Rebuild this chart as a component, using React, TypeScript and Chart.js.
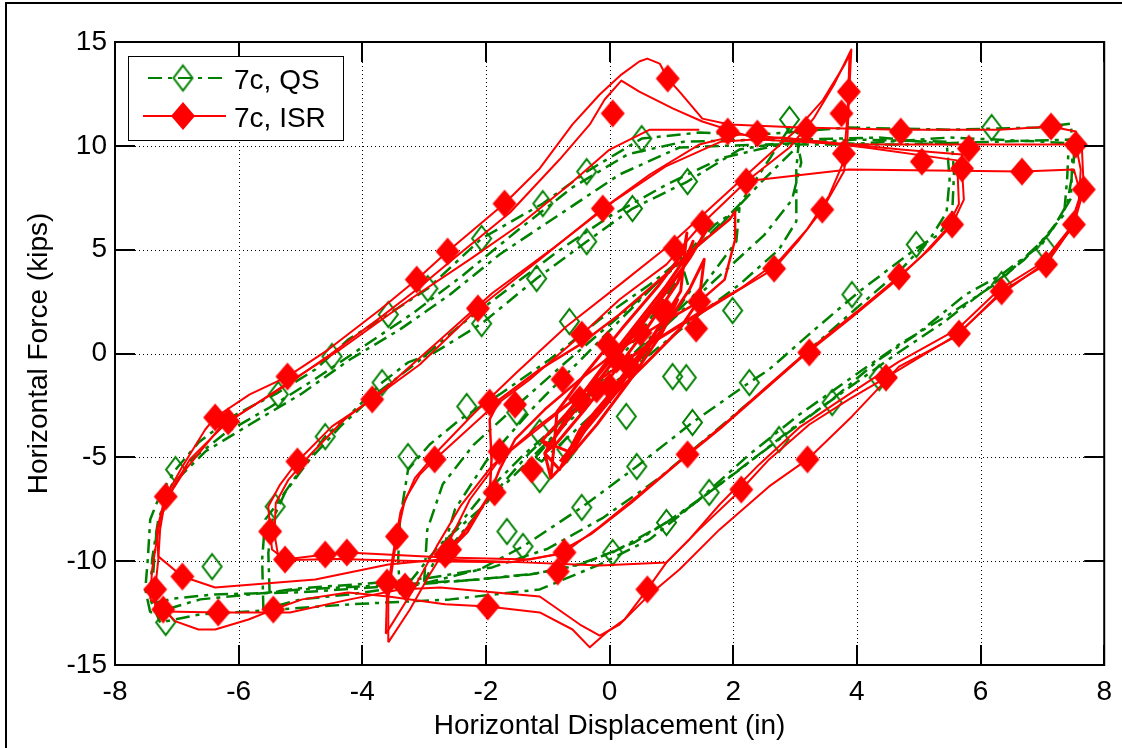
import React, { useEffect, useRef } from "react";
import { Chart, registerables } from "chart.js";

Chart.register(...registerables);

const FONT = '"Liberation Sans", Arial, Helvetica, sans-serif';
const X_MIN = -8;
const X_MAX = 8;
const Y_MIN = -15;
const Y_MAX = 15;
const xTickValues = [-8, -6, -4, -2, 0, 2, 4, 6, 8];
const yTickValues = [-15, -10, -5, 0, 5, 10, 15];
const xTitle = "Horizontal Displacement (in)";
const yTitle = "Horizontal Force (kips)";
const legendLabels = ["7c, QS", "7c, ISR"];

const QS_COLOR = "#008000";
const ISR_COLOR = "#ff0000";
const QS_DASH = [14, 6, 4, 6];

// ---------------- ISR (red) loops ----------------
const isrOuterAX = [-7.35,-7.35,-7.30,-7.27,-7.18,-6.91,-6.54,-6.38,-5.82,-5.21,-4.55,-3.71,-3.12,-2.62,-1.70,-1.13,-0.60,-0.16,0.19,0.48,0.61,0.81,0.94,1.13,1.50,1.94,3.07,4.71,6.30,7.14,7.54,7.64,7.67,7.51,7.06,6.34,5.65,5.17,4.47,3.87,3.23,2.58,2.13,1.45,0.92,0.61,0.24,-0.05,-0.32,-0.60,-1.13,-1.97,-2.66,-3.58,-4.23,-4.97,-5.44,-5.84,-6.38,-6.65,-7.02,-7.22,-7.35];
const isrOuterAY = [-12.33,-11.36,-9.92,-8.47,-6.89,-5.44,-3.66,-3.08,-1.97,-1.11,0.19,2.12,3.56,4.91,7.22,8.91,11.03,12.47,13.43,14.06,14.20,13.96,13.24,12.61,11.31,11.03,10.88,10.78,10.78,10.93,10.69,9.82,7.90,6.21,4.29,2.99,0.96,0.10,-1.16,-2.21,-3.42,-5.10,-6.55,-8.47,-10.06,-11.36,-12.81,-13.43,-14.15,-13.29,-12.47,-12.18,-12.08,-11.70,-11.51,-11.84,-12.33,-12.81,-13.29,-13.29,-12.90,-12.33,-12.33];

const isrOuterBX = [-7.43,-7.40,-7.27,-7.08,-6.79,-6.17,-5.21,-4.52,-3.71,-3.12,-2.50,-1.61,-0.81,-0.32,-0.08,0.19,0.48,1.02,1.50,2.42,3.87,6.30,7.54,7.62,7.59,7.43,6.94,6.30,5.57,4.68,3.92,3.20,2.58,1.78,1.13,0.65,0.16,-0.16,-0.48,-1.13,-2.74,-3.39,-4.20,-5.17,-6.33,-7.18,-7.43];
const isrOuterBY = [-11.84,-10.40,-7.99,-6.55,-5.10,-3.27,-1.49,-0.05,1.73,3.08,4.62,6.79,9.34,11.03,12.23,13.14,12.61,11.80,11.17,10.30,10.06,10.06,10.06,8.86,7.41,5.97,4.14,2.79,0.77,-0.63,-3.03,-5.10,-6.40,-8.47,-10.40,-11.60,-13.05,-13.58,-13.05,-11.70,-11.27,-11.36,-11.84,-12.47,-12.47,-12.42,-11.84];

const isrOuterCX = [2.20,3.87,6.67,7.51,7.62,7.46,7.03,6.30,5.62,4.68,3.87,3.07,2.42,1.78,1.29,0.92,-0.16,-1.78,-2.74,-3.58,-4.76,-6.38,-6.91,-7.30,-7.32,-7.22,-6.86,-6.30,-5.17,-4.36,-3.23,-2.26,-1.45,-0.65,0.00,0.65,1.45];
const isrOuterCY = [8.30,8.86,8.76,8.86,7.65,5.97,4.43,3.08,1.16,-0.39,-1.97,-3.56,-5.34,-7.27,-8.95,-10.06,-10.21,-10.01,-9.92,-10.16,-10.88,-11.27,-10.74,-9.77,-8.47,-7.27,-5.59,-3.56,-1.35,0.19,2.60,4.53,6.21,8.14,9.82,10.78,10.78];

const isrMidAX = [5.70,5.73,5.54,5.17,4.68,4.04,3.23,2.58,1.94,1.26,0.48,-0.16,-0.73,-1.29,-2.66,-4.25,-4.60,-5.25,-5.46,-5.49,-5.52,-5.33,-5.05,-4.49,-3.84,-3.07,-2.13,-1.13,-0.11,0.65,1.45,2.10,3.07,4.71,5.70,5.70];
const isrMidAY = [8.86,7.41,6.21,5.01,3.71,2.12,0.19,-1.49,-3.18,-4.86,-6.79,-8.33,-9.58,-9.92,-9.82,-9.58,-9.68,-9.92,-9.44,-8.57,-7.37,-6.31,-5.20,-3.51,-2.21,-0.53,2.17,4.53,6.98,8.62,10.06,10.54,10.30,9.82,9.58,8.86];

const isrMidBX = [5.62,5.65,5.45,5.05,4.55,3.90,3.10,2.45,1.80,1.10,0.35,-0.30,-0.90,-1.60,-3.00,-4.40,-5.35,-5.42,-5.40,-5.20,-4.85,-4.30,-3.60,-2.80,-1.90,-0.90,0.10,0.90,1.80,2.80,4.20,5.62];
const isrMidBY = [9.30,7.20,6.00,4.70,3.30,1.70,-0.20,-1.90,-3.60,-5.30,-7.20,-8.70,-9.70,-10.05,-10.00,-9.90,-9.95,-8.70,-7.20,-6.10,-4.90,-3.20,-1.60,0.50,2.90,5.10,7.40,9.00,10.20,10.40,9.90,9.30];

const isrSpikeAX = [-3.58,-3.58,-3.55,-3.44,-3.31,-3.07,-2.83,-2.42,-1.94,-1.29,-0.45,0.16,0.92,1.50,2.21,2.91,3.31,3.63,3.91,3.87,3.84,3.79,3.44,3.07,2.66,2.10,1.45,0.65,-0.16,-0.97,-1.78,-2.26,-2.66,-2.91,-3.23,-3.58];
const isrSpikeAY = [-13.91,-11.84,-11.03,-8.81,-7.03,-5.83,-5.10,-4.00,-2.70,-1.25,0.91,2.60,4.29,6.26,8.28,9.92,11.36,12.95,14.64,12.23,9.82,8.76,6.93,5.49,4.09,3.08,1.88,0.43,-1.25,-3.18,-5.10,-7.03,-9.44,-10.64,-12.33,-13.91];

const isrSpikeBX = [-3.62,-3.60,-3.50,-3.38,-3.15,-2.75,-2.20,-1.50,-0.70,0.20,1.00,1.70,2.40,3.00,3.45,3.80,3.88,3.85,3.78,3.55,3.20,2.75,2.15,1.40,0.50,-0.40,-1.20,-1.90,-2.40,-2.80,-3.20,-3.62];
const isrSpikeBY = [-13.50,-11.50,-9.60,-7.60,-6.00,-4.60,-2.90,-0.90,1.30,3.40,5.30,7.20,9.10,10.70,12.20,13.90,14.40,11.50,9.20,7.60,6.00,4.50,3.20,1.90,0.20,-1.80,-3.60,-5.40,-7.30,-9.30,-11.50,-13.50];

const isrSmallX = [-1.94,-1.91,-1.94,-1.78,-1.13,-0.48,0.16,0.81,1.45,1.94,2.03,2.03,1.86,1.45,0.81,0.16,-0.48,-1.05,-1.53,-1.78,-1.94,-2.30,-2.58,-2.20,-1.94];
const isrSmallY = [-6.79,-5.10,-3.18,-2.21,-0.77,0.43,1.88,3.56,5.25,6.45,6.84,5.49,3.56,2.50,1.40,0.19,-1.25,-2.70,-4.14,-5.59,-6.79,-8.60,-9.44,-8.00,-6.79];

const isrInnerX = [-0.81,-0.48,0.00,0.48,0.97,1.29,1.53,1.45,1.13,0.65,0.16,-0.32,-0.65,-0.81,-1.05,-0.60,-0.10,0.40,0.90,1.25,1.35,1.10,0.60,0.10,-0.40,-0.85,-1.05,-0.95,-0.90,-0.85,-0.40,0.20,0.80,1.20,1.25,1.15,0.70,0.20,-0.30,-0.70,-0.95];
const isrInnerY = [-5.59,-3.66,-1.97,-0.29,1.64,3.08,4.53,2.60,1.16,-0.29,-1.73,-3.18,-4.62,-5.59,-4.80,-2.60,-0.60,1.30,3.20,4.70,5.40,3.40,1.20,-0.80,-2.70,-4.30,-4.80,-6.00,-4.50,-2.80,-1.00,1.20,3.30,4.90,5.80,3.00,0.80,-1.10,-3.20,-5.20,-6.00];

const isrInner2X = [-1.10,-0.70,-0.20,0.30,0.80,1.20,1.50,1.60,1.30,0.90,0.40,-0.10,-0.60,-1.00,-1.10,-0.60,-0.20,0.40,0.85,1.10,0.95,0.50,0.05,-0.45,-0.80];
const isrInner2Y = [-4.20,-2.90,-1.10,0.70,2.60,4.20,5.60,6.10,4.60,2.90,0.90,-1.00,-2.90,-4.50,-4.20,-4.80,-3.40,-1.00,1.00,2.60,2.00,-0.10,-2.10,-3.90,-5.20];

// ---------------- QS (green) loops ----------------
const qsOuterAX = [-7.43,-7.51,-7.47,-7.43,-7.27,-7.02,-6.65,-6.10,-5.36,-4.76,-4.23,-3.58,-2.94,-2.07,-1.08,-0.37,0.52,1.45,2.42,3.87,5.49,6.94,7.46,7.49,7.46,7.27,6.99,6.34,5.76,4.96,4.36,3.60,2.74,1.61,0.92,0.05,-0.60,-1.29,-2.10,-3.39,-5.00,-6.62,-7.18,-7.43];
const qsOuterAY = [-12.47,-11.36,-9.92,-7.99,-6.79,-5.59,-4.29,-3.03,-1.88,-0.77,0.67,1.88,3.13,5.54,7.22,8.76,10.35,10.64,10.54,10.88,10.78,10.88,11.07,9.82,7.46,6.50,5.25,3.80,2.84,0.91,-0.29,-2.21,-4.14,-6.69,-8.14,-9.58,-10.26,-10.64,-10.88,-11.12,-11.36,-11.84,-12.33,-12.47];

const qsOuterBX = [-7.27,-7.43,-7.40,-7.30,-7.08,-6.54,-5.82,-5.00,-4.20,-3.39,-2.58,-1.78,-0.81,0.16,1.13,2.42,4.68,7.43,7.40,7.35,6.94,6.30,5.49,4.68,3.87,3.07,2.26,1.45,0.65,-0.16,-1.13,-2.58,-4.20,-5.82,-6.62,-7.27];
const qsOuterBY = [-12.95,-11.84,-9.92,-7.99,-6.31,-4.72,-3.42,-1.97,-0.29,1.16,2.84,4.77,6.69,8.62,9.92,10.06,10.06,10.30,8.38,6.69,5.25,3.47,1.88,0.43,-1.25,-2.94,-4.86,-7.03,-8.95,-10.16,-11.36,-11.84,-12.08,-12.42,-12.56,-12.95];

const qsOuterCX = [-7.35,-7.38,-7.33,-7.15,-6.80,-6.20,-5.50,-4.80,-4.00,-3.20,-2.40,-1.50,-0.60,0.30,1.20,2.50,4.00,5.50,7.00,7.52,7.50,7.40,7.15,6.70,6.10,5.40,4.60,3.80,3.00,2.10,1.20,0.40,-0.40,-1.20,-2.20,-3.50,-5.00,-6.40,-7.05,-7.35];
const qsOuterCY = [-12.00,-10.50,-8.60,-6.90,-5.20,-3.80,-2.60,-1.30,0.30,1.90,3.70,5.90,8.00,9.60,10.20,10.30,10.10,10.40,10.20,10.10,8.90,7.20,5.90,4.50,3.10,1.50,-0.10,-1.80,-3.50,-5.60,-7.60,-9.10,-10.10,-10.60,-10.90,-11.20,-11.50,-11.60,-11.80,-12.00];

const qsMidX = [-5.60,-5.62,-5.57,-5.41,-5.00,-4.60,-4.20,-3.68,-3.26,-2.83,-2.07,-1.18,-0.37,0.37,1.26,2.10,3.07,4.36,5.54,5.57,5.54,5.33,4.96,4.04,3.28,2.58,2.26,1.34,0.44,-0.45,-1.40,-2.10,-3.07,-4.20,-5.00,-5.60];
const qsMidY = [-12.33,-9.92,-7.99,-7.37,-5.59,-4.00,-2.94,-1.40,-0.43,0.05,1.44,3.61,5.39,6.98,8.28,9.82,10.30,10.40,10.06,8.62,6.69,5.73,5.06,2.99,1.06,-0.77,-1.40,-3.32,-5.44,-7.41,-9.29,-10.40,-11.12,-11.60,-11.84,-12.33];

const qsMidBX = [-5.50,-5.52,-5.45,-5.25,-4.85,-4.35,-3.80,-3.10,-2.40,-1.60,-0.80,0.00,0.90,1.80,2.80,4.00,5.45,5.50,5.45,5.20,4.70,4.00,3.20,2.40,1.60,0.80,-0.10,-1.00,-1.90,-2.90,-4.00,-5.00,-5.50];
const qsMidBY = [-11.50,-9.60,-8.00,-6.70,-5.10,-3.50,-2.00,-0.40,1.40,3.20,5.00,6.60,8.10,9.40,10.10,10.30,10.20,8.40,6.80,5.60,4.00,2.20,0.10,-2.00,-4.00,-6.00,-7.90,-9.40,-10.30,-10.80,-11.10,-11.30,-11.50];

const qsInnerAX = [-3.39,-3.42,-3.39,-3.26,-2.91,-2.42,-1.78,-0.97,-0.16,0.65,1.45,2.10,2.58,2.91,3.07,3.02,3.02,2.74,2.10,1.45,0.65,-0.16,-0.81,-1.45,-2.10,-2.74,-3.07,-3.39];
const qsInnerAY = [-11.60,-9.92,-7.99,-5.59,-4.38,-3.18,-1.97,-0.29,1.64,3.32,5.25,7.17,9.34,10.88,10.54,8.86,6.36,5.01,3.32,1.88,-0.05,-1.97,-3.66,-5.59,-7.51,-9.19,-10.40,-11.60];

const qsInnerBX = [-2.70,-2.50,-2.00,-1.20,-0.20,0.80,1.70,2.10,2.05,1.50,0.60,-0.40,-1.30,-2.00,-2.60];
const qsInnerBY = [-9.50,-7.50,-5.20,-2.50,0.50,3.50,6.20,7.00,5.40,3.20,0.60,-2.20,-4.80,-7.20,-9.40];

const qsInnerCX = [-1.20,-0.40,0.50,1.20,1.30,0.60,-0.30,-1.10,-1.20];
const qsInnerCY = [-5.00,-2.30,1.00,4.00,3.00,0.00,-3.00,-5.20,-5.00];

const qsInnerDX = [-3.00,-2.95,-2.70,-2.20,-1.50,-0.70,0.20,1.00,1.80,2.50,3.05,3.10,2.95,2.50,1.80,1.00,0.20,-0.60,-1.40,-2.10,-2.70,-3.00];
const qsInnerDY = [-11.00,-8.50,-6.30,-4.40,-2.50,-0.40,1.90,4.00,6.20,8.40,10.00,9.20,7.40,5.70,3.80,1.60,-0.60,-2.80,-4.90,-7.00,-9.20,-11.00];

// ---------------- markers ----------------
const isrMarkX = [0.05,0.94,-1.70,-2.62,-3.12,-5.21,-6.38,-6.17,-7.18,-7.35,-7.22,-6.91,-6.33,-5.44,-1.97,0.61,2.13,4.47,3.20,3.23,5.65,6.34,7.06,7.51,7.67,7.54,7.14,6.67,5.70,5.81,5.05,4.71,3.87,3.75,3.18,3.79,1.91,2.39,2.21,1.50,1.05,1.45,1.40,0.92,-0.03,-0.45,-0.11,-2.13,5.54,4.68,3.44,2.66,1.26,-0.73,-0.84,-2.58,-1.86,-1.78,-1.26,-1.94,-1.53,-0.76,-0.48,0.00,-2.83,-2.66,-3.44,-3.60,-3.31,-4.25,-4.60,-5.25,-5.49,-5.05,-3.84,0.11,-0.21,0.86,0.32,0.50];
const isrMarkY = [11.56,13.24,7.22,4.91,3.56,-1.11,-3.08,-3.27,-6.89,-11.36,-12.33,-10.74,-12.47,-12.33,-12.18,-11.36,-6.55,-1.16,-5.10,0.05,0.96,2.99,4.29,6.21,7.90,10.06,10.93,8.76,8.91,9.87,9.24,10.69,12.61,11.56,10.78,9.63,10.69,10.59,8.28,6.26,5.06,2.50,1.20,2.02,0.43,0.91,6.98,2.17,6.21,3.71,6.93,4.09,-4.86,-9.58,-10.50,-9.44,-6.69,-4.72,-5.59,-2.36,-2.46,-1.25,-2.21,-1.59,-5.10,-9.68,-8.81,-11.03,-11.22,-9.58,-9.68,-9.92,-8.57,-5.20,-2.21,-0.29,-1.73,1.97,-0.63,1.00];

const qsMarkX = [-7.02,-5.36,-4.49,-3.58,-2.94,-2.07,-1.08,-0.37,0.52,-2.07,-1.18,-0.37,0.37,1.26,2.91,6.18,4.36,3.60,2.74,1.61,0.92,0.05,2.26,1.34,0.44,-0.45,-1.40,-5.41,-4.60,-3.68,-3.26,-6.43,-7.18,4.96,3.92,7.06,6.34,-2.31,-1.50,-1.13,-1.66,1.02,-0.65,1.99,1.24,0.27,-0.69,-1.13];
const qsMarkY = [-5.59,-1.97,-0.14,1.88,3.13,5.54,7.22,8.76,10.35,1.44,3.61,5.39,6.98,8.28,11.27,10.88,-1.16,-2.36,-4.14,-6.69,-8.14,-9.58,-1.40,-3.32,-5.44,-7.41,-9.29,-7.37,-4.00,-1.40,-4.96,-10.26,-12.95,5.25,2.84,5.01,3.32,-2.55,-2.84,-3.80,-8.57,-1.11,1.54,2.07,-1.16,-3.03,-4.62,-6.07];

function pts(xs: number[], ys: number[]) {
  return xs.map((x, i) => ({ x, y: ys[i] }));
}

function diamond(w: number, h: number, fill: string | null, stroke: string | null, lw: number) {
  const c = document.createElement("canvas");
  const pad = Math.ceil(lw) + 1;
  c.width = w + pad * 2;
  c.height = h + pad * 2;
  const g = c.getContext("2d")!;
  const cx = c.width / 2;
  const cy = c.height / 2;
  g.beginPath();
  g.moveTo(cx, cy - h / 2);
  g.lineTo(cx + w / 2, cy);
  g.lineTo(cx, cy + h / 2);
  g.lineTo(cx - w / 2, cy);
  g.closePath();
  if (fill) {
    g.fillStyle = fill;
    g.fill();
  }
  if (stroke) {
    g.strokeStyle = stroke;
    g.lineWidth = lw;
    g.stroke();
  }
  return c;
}

export default function App() {
  const ref = useRef<HTMLCanvasElement>(null);

  useEffect(() => {
    const canvas = ref.current!;
    const redDiamond = diamond(24, 28, ISR_COLOR, null, 0);
    const greenDiamond = diamond(19, 25, null, QS_COLOR, 2);

    const lineDs = (label: string, xs: number[], ys: number[], color: string, dash: number[], width: number) => ({
      label,
      data: pts(xs, ys),
      showLine: true,
      borderColor: color,
      backgroundColor: color,
      borderWidth: width,
      borderDash: dash,
      borderJoinStyle: "round" as const,
      borderCapStyle: "butt" as const,
      pointRadius: 0,
      pointHoverRadius: 0,
      tension: 0,
      fill: false,
    });
    const markDs = (label: string, xs: number[], ys: number[], img: HTMLCanvasElement) => ({
      label,
      data: pts(xs, ys),
      showLine: false,
      pointStyle: img,
      pointRadius: 10,
      pointHoverRadius: 10,
      borderColor: "transparent",
      backgroundColor: "transparent",
    });

    const R = legendLabels[1];
    const G = legendLabels[0];
    const datasets: any[] = [
      markDs(R, isrMarkX, isrMarkY, redDiamond),
      lineDs(R, isrOuterAX, isrOuterAY, ISR_COLOR, [], 2),
      lineDs(R, isrOuterBX, isrOuterBY, ISR_COLOR, [], 2),
      lineDs(R, isrOuterCX, isrOuterCY, ISR_COLOR, [], 2),
      lineDs(R, isrMidAX, isrMidAY, ISR_COLOR, [], 2),
      lineDs(R, isrMidBX, isrMidBY, ISR_COLOR, [], 2),
      lineDs(R, isrSpikeAX, isrSpikeAY, ISR_COLOR, [], 2),
      lineDs(R, isrSpikeBX, isrSpikeBY, ISR_COLOR, [], 2),
      lineDs(R, isrSmallX, isrSmallY, ISR_COLOR, [], 2.5),
      lineDs(R, isrInnerX, isrInnerY, ISR_COLOR, [], 3),
      lineDs(R, isrInner2X, isrInner2Y, ISR_COLOR, [], 3),
      markDs(G, qsMarkX, qsMarkY, greenDiamond),
      lineDs(G, qsOuterAX, qsOuterAY, QS_COLOR, QS_DASH, 2.5),
      lineDs(G, qsOuterBX, qsOuterBY, QS_COLOR, QS_DASH, 2.5),
      lineDs(G, qsOuterCX, qsOuterCY, QS_COLOR, QS_DASH, 2.5),
      lineDs(G, qsMidX, qsMidY, QS_COLOR, QS_DASH, 2.5),
      lineDs(G, qsMidBX, qsMidBY, QS_COLOR, QS_DASH, 2.5),
      lineDs(G, qsInnerAX, qsInnerAY, QS_COLOR, QS_DASH, 2.5),
      lineDs(G, qsInnerBX, qsInnerBY, QS_COLOR, QS_DASH, 2.5),
      lineDs(G, qsInnerCX, qsInnerCY, QS_COLOR, QS_DASH, 2.5),
      lineDs(G, qsInnerDX, qsInnerDY, QS_COLOR, QS_DASH, 2.5),
    ];

    const matlabAxes = {
      id: "matlabAxes",
      beforeDatasetsDraw(chart: any) {
        const { ctx, chartArea: a, scales } = chart;
        const xs = scales.x;
        const ys = scales.y;
        ctx.save();
        ctx.strokeStyle = "#000";
        ctx.lineWidth = 1;
        ctx.setLineDash([1, 3]);
        ctx.beginPath();
        xTickValues.forEach((v) => {
          if (v <= X_MIN || v >= X_MAX) return;
          const p = Math.round(xs.getPixelForValue(v)) + 0.5;
          ctx.moveTo(p, a.top);
          ctx.lineTo(p, a.bottom);
        });
        yTickValues.forEach((v) => {
          if (v <= Y_MIN || v >= Y_MAX) return;
          const p = Math.round(ys.getPixelForValue(v)) + 0.5;
          ctx.moveTo(a.left, p);
          ctx.lineTo(a.right, p);
        });
        ctx.stroke();
        ctx.restore();
      },
      afterDatasetsDraw(chart: any) {
        const { ctx, chartArea: a, scales } = chart;
        const xs = scales.x;
        const ys = scales.y;
        ctx.save();
        ctx.setLineDash([]);
        ctx.strokeStyle = "#000";
        ctx.lineWidth = 2;
        ctx.strokeRect(a.left, a.top, a.right - a.left, a.bottom - a.top);
        const TL = 20;
        ctx.beginPath();
        xTickValues.forEach((v) => {
          const p = Math.round(xs.getPixelForValue(v));
          ctx.moveTo(p, a.bottom);
          ctx.lineTo(p, a.bottom - TL);
          ctx.moveTo(p, a.top);
          ctx.lineTo(p, a.top + TL);
        });
        yTickValues.forEach((v) => {
          const p = Math.round(ys.getPixelForValue(v));
          ctx.moveTo(a.left, p);
          ctx.lineTo(a.left + TL, p);
          ctx.moveTo(a.right, p);
          ctx.lineTo(a.right - TL, p);
        });
        ctx.stroke();

        // legend
        const lx = a.left + 13;
        const ly = a.top + 14;
        const lw = 215;
        const lh = 84;
        ctx.fillStyle = "#fff";
        ctx.fillRect(lx, ly, lw, lh);
        ctx.lineWidth = 1;
        ctx.strokeStyle = "#000";
        ctx.strokeRect(lx + 0.5, ly + 0.5, lw, lh);

        const r1 = ly + 22;
        const r2 = ly + 60;
        const mx = lx + 55;
        ctx.strokeStyle = QS_COLOR;
        ctx.lineWidth = 2;
        ctx.setLineDash(QS_DASH);
        ctx.beginPath();
        ctx.moveTo(lx + 20, r1);
        ctx.lineTo(lx + 98, r1);
        ctx.stroke();
        ctx.setLineDash([]);
        ctx.drawImage(greenDiamond, mx - greenDiamond.width / 2, r1 - greenDiamond.height / 2);

        ctx.strokeStyle = ISR_COLOR;
        ctx.beginPath();
        ctx.moveTo(lx + 15, r2);
        ctx.lineTo(lx + 98, r2);
        ctx.stroke();
        ctx.drawImage(redDiamond, mx - redDiamond.width / 2, r2 - redDiamond.height / 2);

        ctx.fillStyle = "#000";
        ctx.font = `28px ${FONT}`;
        ctx.textBaseline = "alphabetic";
        ctx.textAlign = "left";
        ctx.fillText(legendLabels[0], lx + 106, r1 + 11);
        ctx.fillText(legendLabels[1], lx + 106, r2 + 11);

        // figure frame
        ctx.strokeStyle = "#000";
        ctx.lineWidth = 2;
        ctx.beginPath();
        ctx.moveTo(6, chart.height);
        ctx.lineTo(6, 3);
        ctx.lineTo(chart.width, 3);
        ctx.stroke();
        ctx.restore();
      },
    };

    const chart = new Chart(canvas, {
      type: "scatter",
      data: { datasets },
      options: {
        animation: false,
        responsive: false,
        maintainAspectRatio: false,
        events: [],
        layout: { padding: { left: 0, right: 16, top: 42, bottom: 0 } },
        plugins: { legend: { display: false }, tooltip: { enabled: false } },
        scales: {
          x: {
            type: "linear",
            position: "bottom",
            min: X_MIN,
            max: X_MAX,
            afterBuildTicks: (s: any) => {
              s.ticks = xTickValues.map((v) => ({ value: v }));
            },
            afterFit: (s: any) => {
              s.height = 83;
            },
            grid: { display: false, drawTicks: false },
            border: { display: false },
            ticks: {
              color: "#000",
              font: { family: FONT, size: 28 },
              padding: 10,
              autoSkip: false,
              maxRotation: 0,
              callback: (v: any) => String(v),
            },
            title: {
              display: true,
              text: xTitle,
              color: "#000",
              font: { family: FONT, size: 28 },
              padding: { top: 0, bottom: 5 },
            },
          },
          y: {
            type: "linear",
            position: "left",
            min: Y_MIN,
            max: Y_MAX,
            afterBuildTicks: (s: any) => {
              s.ticks = yTickValues.map((v) => ({ value: v }));
            },
            afterFit: (s: any) => {
              s.width = 115;
            },
            grid: { display: false, drawTicks: false },
            border: { display: false },
            ticks: {
              color: "#000",
              font: { family: FONT, size: 28 },
              padding: 8,
              autoSkip: false,
              callback: (v: any) => String(v),
            },
            title: {
              display: true,
              text: yTitle,
              color: "#000",
              font: { family: FONT, size: 28 },
              padding: { top: 22.5, bottom: 0 },
            },
          },
        },
      } as any,
      plugins: [matlabAxes],
    });

    return () => chart.destroy();
  }, []);

  return (
    <div style={{ position: "fixed", left: 0, top: 0, width: 1122, height: 748, background: "#fff" }}>
      <canvas ref={ref} width={1122} height={748} style={{ display: "block", width: 1122, height: 748 }} />
    </div>
  );
}
